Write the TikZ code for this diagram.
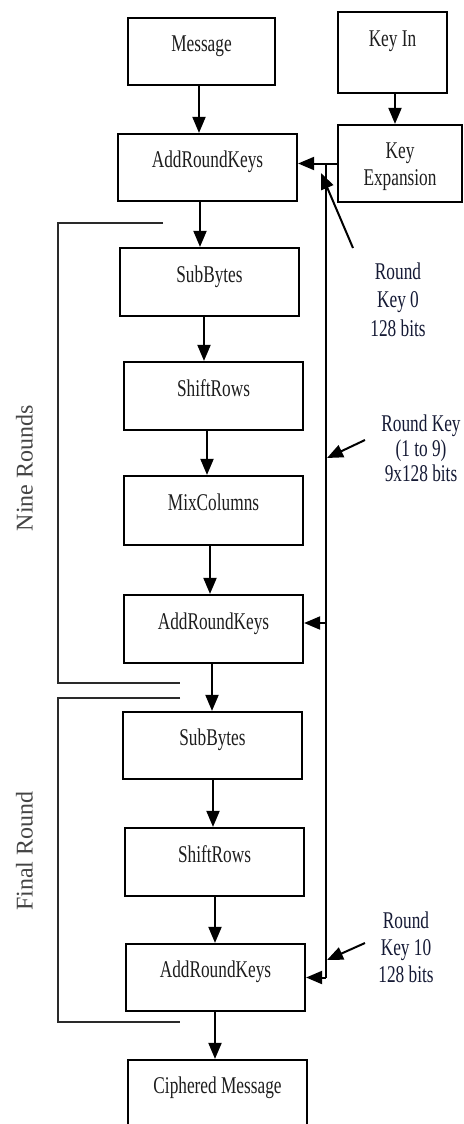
\documentclass[tikz,border=0pt]{standalone}
\usepackage{fontspec}
\setmainfont{Liberation Serif}
\usepackage{graphicx}
\usetikzlibrary{arrows.meta,calc}
\definecolor{boxtext}{HTML}{1E1E1E}
\definecolor{labtext}{HTML}{151A35}
\definecolor{sidetext}{HTML}{444444}
\definecolor{brk}{HTML}{2A2A2A}
\newcommand{\sqz}[1]{\scalebox{0.72}[1]{#1}}
\tikzset{
  box/.style={draw=black, line width=2.2pt, inner sep=0pt, text=boxtext,
    font=\fontsize{24}{27}\selectfont},
  arr/.style={-{Triangle[length=16pt,width=13pt]}, line width=2pt, draw=black},
  keyline/.style={line width=2pt, draw=black},
  lab/.style={inner sep=0pt, anchor=base, text=labtext},
  side/.style={inner sep=0pt, anchor=base, rotate=90, text=sidetext,
    font=\fontsize{24}{28}\selectfont},
  bracket/.style={line width=2pt, draw=brk}
}
\begin{document}
\begin{tikzpicture}[x=1pt,y=-1pt]
\useasboundingbox (0,0) rectangle (463,1124);
\clip (0,0) rectangle (463,1124);
\fill[white] (0,0) rectangle (463,1124);

% boxes
\node[box, minimum width=147pt, text height=34pt, text depth=33pt] (msg) at (201.5,51.5) {\sqz{Message}};
\node[box, minimum width=109pt, text height=35pt, text depth=46pt] (keyin) at (392.5,52.5) {\sqz{Key In}};
\node[box, minimum width=124pt, text height=33pt, text depth=44pt] (keyexp) at (400,163.5)
  {\sqz{\begin{tabular}[t]{@{}c@{}}Key\\Expansion\end{tabular}}};
\node[box, minimum width=179pt, text height=33.5pt, text depth=33.5pt] (ark1) at (207.5,167.5) {\sqz{AddRoundKeys}};
\node[box, minimum width=179pt, text height=34pt, text depth=34pt] (sb1) at (209.5,282) {\sqz{SubBytes}};
\node[box, minimum width=179pt, text height=34pt, text depth=34pt] (sr1) at (213.5,396) {\sqz{ShiftRows}};
\node[box, minimum width=179pt, text height=34pt, text depth=35pt] (mc) at (213.5,510.5) {\sqz{MixColumns}};
\node[box, minimum width=179pt, text height=34pt, text depth=34pt] (ark2) at (213.5,629) {\sqz{AddRoundKeys}};
\node[box, minimum width=179pt, text height=33.5pt, text depth=33.5pt] (sb2) at (212.5,745.5) {\sqz{SubBytes}};
\node[box, minimum width=179pt, text height=34pt, text depth=34pt] (sr2) at (214.5,862) {\sqz{ShiftRows}};
\node[box, minimum width=179pt, text height=33.5pt, text depth=33.5pt] (ark3) at (215.5,977.5) {\sqz{AddRoundKeys}};
\node[box, minimum width=179pt, text height=33pt, text depth=67pt] (ciph) at (217.5,1110) {\sqz{Ciphered Message}};

% main flow
\draw[arr] ([xshift=-2.5pt]msg.south) -- ([xshift=-2.5pt]msg.south |- ark1.north);
\draw[arr] ([xshift=-7.5pt]ark1.south) -- ([xshift=-7.5pt]ark1.south |- sb1.north);
\draw[arr] ([xshift=-5.5pt]sb1.south) -- ([xshift=-5.5pt]sb1.south |- sr1.north);
\draw[arr] ([xshift=-6.5pt]sr1.south) -- ([xshift=-6.5pt]sr1.south |- mc.north);
\draw[arr] ([xshift=-3.5pt]mc.south) -- ([xshift=-3.5pt]mc.south |- ark2.north);
\draw[arr] ([xshift=-1.5pt]ark2.south) -- ([xshift=-1.5pt]ark2.south |- sb2.north);
\draw[arr] ([xshift=0.5pt]sb2.south) -- ([xshift=0.5pt]sb2.south |- sr2.north);
\draw[arr] ([xshift=0.5pt]sr2.south) -- ([xshift=0.5pt]sr2.south |- ark3.north);
\draw[arr] ([xshift=-0.5pt]ark3.south) -- ([xshift=-0.5pt]ark3.south |- ciph.north);

% key schedule
\draw[arr] ([xshift=2.5pt]keyin.south) -- ([xshift=2.5pt]keyin.south |- keyexp.north);
\draw[arr] (keyexp.west) -- (keyexp.west -| ark1.east);
\coordinate (kx) at (326,0);
\coordinate (k2) at (326,623);
\draw[keyline] (keyexp.west -| kx) -- (ark3.east -| kx);
\draw[arr] (ark3.east -| kx) -- (ark3.east);
\draw[arr] (k2) -- (k2 -| ark2.east);

% round key labels
\node[lab, font=\fontsize{24}{28.5}\selectfont] (rk0) at (398,279.3)
  {\sqz{\begin{tabular}[t]{@{}c@{}}Round\\Key 0\\128 bits\end{tabular}}};
\node[lab, font=\fontsize{24}{25}\selectfont] (rk19) at (421,431.7)
  {\sqz{\begin{tabular}[t]{@{}c@{}}Round Key\\(1 to 9)\\9x128 bits\end{tabular}}};
\node[lab, font=\fontsize{24}{27}\selectfont] (rk10) at (406,928)
  {\sqz{\begin{tabular}[t]{@{}c@{}}Round\\Key 10\\128 bits\end{tabular}}};

\coordinate (rk0t) at (353,248);
\coordinate (rk0h) at (321,173);
\coordinate (rk19t) at (365,440);
\coordinate (rk19h) at (327,458);
\coordinate (rk10t) at (365,943);
\coordinate (rk10h) at (327,960);
\draw[arr] (rk0t) -- (rk0h);
\draw[arr] (rk19t) -- (rk19h);
\draw[arr] (rk10t) -- (rk10h);

% round brackets
\draw[bracket] (163,223) -- (58,223) -- (58,683) -- (180,683);
\draw[bracket] (180,698) -- (58,698) -- (58,1022) -- (180,1022);
\node[side] (nine) at (32.5,468) {Nine Rounds};
\node[side] (final) at (32.5,851) {Final Round};
\end{tikzpicture}
\end{document}
